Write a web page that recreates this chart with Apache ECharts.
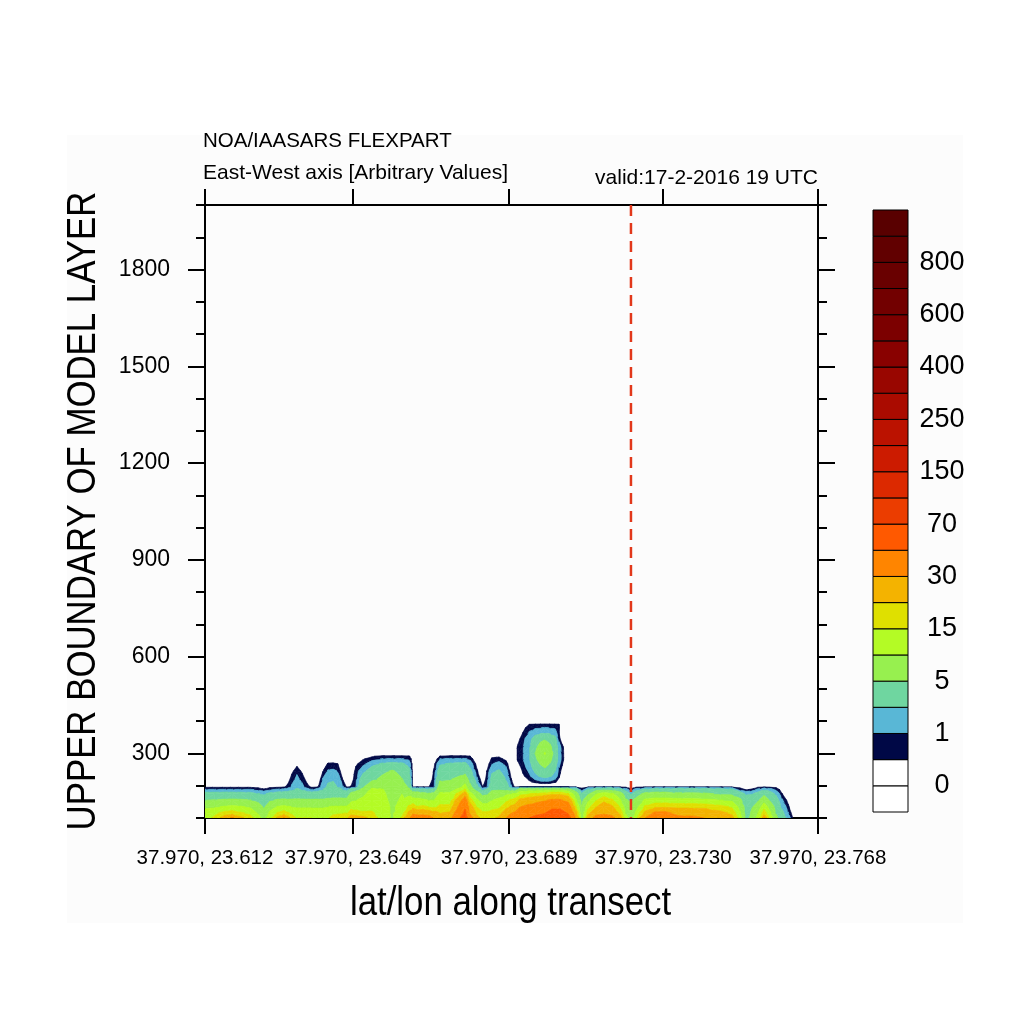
<!DOCTYPE html>
<html><head><meta charset="utf-8">
<script src="https://cdn.jsdelivr.net/npm/echarts@6/dist/echarts.min.js"></script>
<style>html,body{margin:0;padding:0;background:#fff}#c{width:1024px;height:1024px}</style>
</head><body><div id="c"></div>
<script>
// ---------- axis ticks / labels ----------
const xTickLons = [23.612, 23.6497, 23.6894, 23.7286, 23.768];
const xTickLabels = ['37.970, 23.612', '37.970, 23.649', '37.970, 23.689', '37.970, 23.730', '37.970, 23.768'];
const yMajorTicks = [300, 600, 900, 1200, 1500, 1800];
const yMinorTicks = [100, 200, 400, 500, 700, 800, 1000, 1100, 1300, 1400, 1600, 1700, 1900, 2000];
// ---------- contour levels & colours (colour k = interval below levels[k]) ----------
const levels = [0, 0.5, 1, 2, 5, 10, 15, 20, 30, 50, 70, 100, 150, 200, 250, 300, 400, 500, 600, 700, 800, 900];
const levelColors = ['#ffffff','#ffffff','#000846','#59b7d6','#6fd6a0','#97f04f','#b4fb25','#dfe000','#f4b300','#ff8500','#ff5900','#eb3d00','#dc2900','#cc1b00','#bb1200','#aa0b00','#990600','#890100','#7c0000','#720000','#690000','#610000','#590000'];
const colorbarLabelLevels = [0, 2, 4, 6, 8, 10, 12, 14, 16, 18, 20];
const markerLon = 23.7204;
// ---------- main plume field: one vertical profile per longitude ----------
const plumeHeight = [100, 115, 135, 155, 175, 188, 197, 220, 245, 268, 283, 291, 297];
const plumeLon = [23.6120,23.6145,23.6171,23.6189,23.6209,23.6235,23.6255,23.6270,23.6285,23.6306,23.6321,
 23.6331,23.6341,23.6354,23.6367,23.6380,23.6392,23.6408,23.6420,23.6433,23.6446,23.6458,23.6471,23.6481,
 23.6492,23.6504,23.6522,23.6545,23.6570,23.6596,23.6621,23.6639,23.6649,23.6660,23.6675,
 23.6690,23.6703,23.6718,23.6743,23.6769,23.6782,23.6794,23.6812,23.6827,
 23.6838,23.6850,23.6868,23.6886,23.6899,23.6909,
 23.6922,23.6942,23.6962,23.6983,23.7003,23.7023,23.7044,23.7064,23.7079,23.7095,23.7115,23.7135,23.7156,
 23.7176,23.7191,23.7204,23.7217,23.7240,23.7265,23.7291,23.7324,23.7359,23.7395,23.7431,23.7461,23.7481,
 23.7497,23.7512,23.7527,23.7543,23.7558,23.7573,23.7588,23.7604,23.7616,23.7629,23.7680];
const plumeConc = [
 [13,12,9,5,2.6,1.1,0.35,0,0,0,0,0,0],
 [16,14,9.5,5.2,2.6,1.1,0.35,0,0,0,0,0,0],
 [24,17,10.5,5.5,2.7,1.1,0.35,0,0,0,0,0,0],
 [32,18,11,5.6,2.7,1.1,0.35,0,0,0,0,0,0],
 [22,16,10.5,5.5,2.6,1.1,0.35,0,0,0,0,0,0],
 [17,14,9.5,5.2,2.5,1.1,0.35,0,0,0,0,0,0],
 [12,10,7,4,2.1,0.9,0.3,0,0,0,0,0,0],
 [8,6.5,4.6,3.3,1.8,0.6,0.2,0,0,0,0,0,0],
 [14,11,8,4.6,2.4,1.0,0.3,0,0,0,0,0,0],
 [22,16,10.5,5.5,2.7,1.2,0.35,0,0,0,0,0,0],
 [31,18,11,5.6,2.8,1.3,0.4,0,0,0,0,0,0],
 [22,16,10.5,5.5,2.8,1.5,0.7,0.2,0,0,0,0,0],
 [18,14,10,5.5,3,1.8,1.1,0.8,0.35,0,0,0,0],
 [15,12.5,9.5,5.5,3.2,2.2,1.8,1.15,0.9,0.3,0,0,0],
 [15,12.5,9.5,5.5,3,2,1.2,0.85,0.4,0,0,0,0],
 [15,12.5,9.5,5.5,2.8,1.4,0.7,0.25,0,0,0,0,0],
 [15,12.5,9.5,5.5,2.7,1.1,0.35,0,0,0,0,0,0],
 [14,12,9.5,5.5,2.8,1.5,0.45,0,0,0,0,0,0],
 [14,12,9.5,5.5,3,2,1.6,1.1,0.48,0,0,0,0],
 [15,13,10,5.8,3.2,2.4,2.2,1.8,1.1,0.6,0,0,0],
 [17,14,10.5,6,3.3,2.4,2.3,1.9,1.15,0.62,0,0,0],
 [18,14.5,10.5,6,3.3,2.3,2,1.6,1.0,0.5,0,0,0],
 [19,15,10.5,6,3.2,2,1.1,0.45,0,0,0,0,0],
 [20,15,10.5,6,3.2,1.6,0.4,0,0,0,0,0,0],
 [24,18,13,9,6,3,0.55,0.2,0,0,0,0,0],
 [23,17,13,10,7,4,1.0,0.85,0.7,0.4,0,0,0],
 [22,16,12.5,11,9,6,4.5,3,1.6,0.8,0.45,0,0],
 [18,16,13,12,12,11,9,4,3,1.5,0.75,0.45,0],
 [13,12.5,12,11.5,11,10.5,8.5,6,4,2.2,1.05,0.7,0],
 [9.5,9.5,9.5,9,8.5,8,7.5,7,5.5,2.4,1.05,0.7,0],
 [16,13,11,10.5,10,9,7,5.2,4,2.3,1.05,0.7,0],
 [30,22,16,12,9,6,4.5,3,2.5,1.6,0.9,0.6,0],
 [40,28,18,12,7,3,0.3,0.25,0.25,0.25,0.25,0.25,0],
 [40,25,15.5,11.5,7,3,0.4,0,0,0,0,0,0],
 [38,26,16,11,6,2.8,0.4,0,0,0,0,0,0],
 [36,24,15,10,5.5,2.5,0.45,0,0,0,0,0,0],
 [30,22,14,10,6,2.8,0.95,0.8,0.6,0.35,0,0,0],
 [24,20,16,13,11,8,7,4.5,3,1.8,1.05,0.55,0],
 [26,21,16,13,11,8,6.5,4.8,3.5,2.2,1.1,0.7,0],
 [50,42,34,27,18,12,9,6,3.7,2.3,1.1,0.7,0],
 [62,55,47,38,24,16,12,7,4,2.4,1.1,0.7,0],
 [36,30,24,18,12,8,6,4,2.6,1.5,0.9,0.55,0],
 [22,19,15,11,7,4,2.5,1.2,0.6,0.3,0,0,0],
 [18,16,12,8,4,1.8,0.45,0,0,0,0,0,0],
 [18,16,12,8,4.5,2.5,1.0,0.8,0.55,0.2,0,0,0],
 [19,17,13,10,7,4.5,3.5,2.5,1.8,1.0,0.6,0.4,0],
 [21,18,14,11,8,5,4,3,2.2,1.3,0.7,0.45,0],
 [30,24,18,14,9,4.5,3,2,1.4,0.8,0.35,0,0],
 [38,30,21,16,10,3.5,1.2,0.55,0.2,0,0,0,0],
 [42,32,22,17,10.5,3,0.3,0,0,0,0,0,0],
 [45,38,30,22,13.5,8,0.5,0,0,0,0,0,0],
 [50,42,33,24,15,8,0.5,0,0,0,0,0,0],
 [55,46,36,26,16,8,0.5,0,0,0,0,0,0],
 [62,50,40,29,17,8.5,0.5,0,0,0,0,0,0],
 [68,57,46,32,19,9,0.5,0,0,0,0,0,0],
 [70,58,46,32,19,9,0.5,0,0,0,0,0,0],
 [60,50,38,27,16,7,0.5,0,0,0,0,0,0],
 [30,23,16,11,7,3.2,0.4,0,0,0,0,0,0],
 [7,6.5,5.5,4,2.3,0.8,0.25,0,0,0,0,0,0],
 [24,18,13,9,5,2.3,0.4,0,0,0,0,0,0],
 [34,27,20,15,10,4,0.45,0,0,0,0,0,0],
 [36,29,23,19,12,5,0.45,0,0,0,0,0,0],
 [33,27,21,16,11,4.5,0.45,0,0,0,0,0,0],
 [24,19,15,11,7,3,0.4,0,0,0,0,0,0],
 [12,10,7.5,5.5,3.5,1.5,0.35,0,0,0,0,0,0],
 [7.5,6.5,5.5,4.5,2,0.7,0.25,0,0,0,0,0,0],
 [14,11,8,6,3.5,1.5,0.35,0,0,0,0,0,0],
 [30,22,16,11,6,2.5,0.4,0,0,0,0,0,0],
 [40,33,19,12,6.5,3,0.4,0,0,0,0,0,0],
 [42,34,19.5,12,6.5,3,0.4,0,0,0,0,0,0],
 [34,26,18.5,11.5,5.7,3.2,0.4,0,0,0,0,0,0],
 [33,26,18.5,11.5,5.7,3.2,0.4,0,0,0,0,0,0],
 [30,25,18,11,5.5,3,0.4,0,0,0,0,0,0],
 [26,22,16.5,10.2,4.6,2.8,0.4,0,0,0,0,0,0],
 [22,19,14.5,9.5,4.3,2.5,0.4,0,0,0,0,0,0],
 [13,11,8.5,6,3.2,0.9,0.25,0,0,0,0,0,0],
 [4,3.8,3.5,3,1.8,0.45,0.15,0,0,0,0,0,0],
 [6,5.5,4.8,3.6,2,0.6,0.2,0,0,0,0,0,0],
 [12,10,7,4.5,2.5,1.3,0.35,0,0,0,0,0,0],
 [24,18,13,8,4,2,0.4,0,0,0,0,0,0],
 [14,11,8,5,2.8,1.5,0.35,0,0,0,0,0,0],
 [6,5,3.8,2.8,1.8,1.0,0.3,0,0,0,0,0,0],
 [3,2.5,1.8,1.2,0.55,0.2,0,0,0,0,0,0,0],
 [1.5,1.1,0.65,0.3,0,0,0,0,0,0,0,0,0],
 [0.5,0.2,0,0,0,0,0,0,0,0,0,0,0],
 [0,0,0,0,0,0,0,0,0,0,0,0,0],
 [0,0,0,0,0,0,0,0,0,0,0,0,0]
];
// ---------- detached cloud: one row per height ----------
const blobLon = [23.6906,23.6917,23.6929,23.6945,23.6960,23.6973,23.6985,23.6998,23.7011,23.7021,23.7029,23.7039];
const blobHeight = [200, 212, 230, 255, 280, 300, 320, 345, 365, 380, 390, 398];
const blobConc = [
 [0,0,0,0,0,0,0,0,0,0,0,0],
 [0,0,0,0.4,0.65,0.85,0.9,0.85,0.6,0.3,0,0],
 [0,0,0.4,0.85,1.6,2.2,2.5,2.2,1.6,0.6,0.1,0],
 [0,0.2,0.7,1.3,2.7,3.8,5,3.8,2.3,1.0,0.4,0],
 [0.2,0.6,0.95,1.8,4,6.5,8,5.8,3.2,1.5,0.8,0],
 [0.2,0.6,0.95,1.8,5,8,10.5,7,3.7,1.5,0.8,0],
 [0.2,0.6,0.95,1.8,4,6.5,8,5.8,3.2,1.5,0.75,0],
 [0,0.35,0.8,1.5,2.7,3.9,4.8,3.8,2.5,0.8,0,0],
 [0,0,0.5,1.05,1.5,1.7,1.8,1.7,1.4,0.5,0,0],
 [0,0,0.3,0.8,0.95,1.0,1.05,1.0,0.95,0.55,0,0],
 [0,0,0,0.5,0.55,0.58,0.6,0.58,0.55,0.52,0,0],
 [0,0,0,0,0,0,0,0,0,0,0,0]
];

const FONT = '"Liberation Sans", Arial, Helvetica, sans-serif';
const grids = [
  {lons: plumeLon, hs: plumeHeight, v: (i, j) => plumeConc[i][j]},
  {lons: blobLon, hs: blobHeight, v: (i, j) => blobConc[j][i]}
];
const cells = [];
grids.forEach((g, gi) => {
  for (let i = 0; i < g.lons.length - 1; i++)
    for (let j = 0; j < g.hs.length - 1; j++) cells.push([g.lons[i], g.hs[j], i, j, gi]);
});

function clip(poly, level, above) {
  const out = [];
  for (let k = 0; k < poly.length; k++) {
    const a = poly[k], b = poly[(k + 1) % poly.length];
    const ia = above ? a[2] >= level : a[2] < level;
    const ib = above ? b[2] >= level : b[2] < level;
    if (ia) out.push(a);
    if (ia !== ib) {
      const t = (level - a[2]) / (b[2] - a[2]);
      out.push([a[0] + t * (b[0] - a[0]), a[1] + t * (b[1] - a[1]), level]);
    }
  }
  return out;
}

function renderCell(params, api) {
  const g = grids[api.value(4)];
  const i = api.value(2), j = api.value(3);
  const c = [[i, j], [i + 1, j], [i + 1, j + 1], [i, j + 1]].map(([a, b]) => {
    const p = api.coord([g.lons[a], g.hs[b]]);
    return [p[0], p[1], g.v(a, b)];
  });
  const [p00, p10, p11, p01] = c;
  const tris = Math.abs(p00[2] - p11[2]) <= Math.abs(p10[2] - p01[2])
    ? [[p00, p10, p11], [p00, p11, p01]] : [[p00, p10, p01], [p10, p11, p01]];
  const children = [];
  for (const t of tris) {
    const vmax = Math.max(t[0][2], t[1][2], t[2][2]);
    const vmin = Math.min(t[0][2], t[1][2], t[2][2]);
    if (vmax < levels[1]) continue;
    for (let b = 2; b < levelColors.length; b++) {
      const lo = levels[b - 1], hi = b < levels.length ? levels[b] : Infinity;
      if (vmax < lo || vmin >= hi) continue;
      let poly = clip(t, lo, true);
      if (poly.length < 3) continue;
      if (hi !== Infinity) poly = clip(poly, hi, false);
      if (poly.length < 3) continue;
      children.push({type: 'polygon', shape: {points: poly.map(p => [p[0], p[1]])},
        style: {fill: levelColors[b], stroke: levelColors[b], lineWidth: 0.6}});
    }
  }
  return {type: 'group', children};
}

const axisLine = {show: true, lineStyle: {color: '#000', width: 2}};
const xLabel = v => { let k = 0, d = Infinity; xTickLons.forEach((t, n) => { if (Math.abs(t - v) < d) { d = Math.abs(t - v); k = n; } }); return xTickLabels[k]; };

const chart = echarts.init(document.getElementById('c'), null, {renderer: 'canvas', width: 1024, height: 1024});
chart.setOption({
  animation: false,
  backgroundColor: '#ffffff',
  grid: [
    {left: 205, top: 205, width: 613, height: 613, outerBoundsMode: 'none'},
    {left: 873, top: 210, width: 35, height: 602, outerBoundsMode: 'none'}
  ],
  xAxis: [
    {gridIndex: 0, type: 'value', min: 23.612, max: 23.768, position: 'bottom', axisLine,
     axisTick: {show: true, customValues: xTickLons, length: 16, lineStyle: {color: '#000', width: 2}},
     axisLabel: {show: true, customValues: xTickLons, formatter: xLabel, fontSize: 20.5, fontFamily: FONT, color: '#000', margin: 30, showMinLabel: true, showMaxLabel: true},
     splitLine: {show: false}},
    {gridIndex: 0, type: 'value', min: 23.612, max: 23.768, position: 'top', axisLine,
     axisTick: {show: true, customValues: xTickLons, length: 16, lineStyle: {color: '#000', width: 2}},
     axisLabel: {show: false}, splitLine: {show: false}},
    {gridIndex: 1, type: 'value', min: 0, max: 1, show: false}
  ],
  yAxis: [
    {gridIndex: 0, type: 'value', min: 100, max: 2000, position: 'left', axisLine,
     axisTick: {show: true, customValues: yMajorTicks, length: 17, lineStyle: {color: '#000', width: 2}},
     axisLabel: {show: true, customValues: yMajorTicks, formatter: v => String(v), fontSize: 23, fontFamily: FONT, color: '#000', margin: 35},
     splitLine: {show: false}},
    {gridIndex: 0, type: 'value', min: 100, max: 2000, position: 'right', axisLine,
     axisTick: {show: true, customValues: yMajorTicks, length: 17, lineStyle: {color: '#000', width: 2}},
     axisLabel: {show: false}, splitLine: {show: false}},
    {gridIndex: 0, type: 'value', min: 100, max: 2000, position: 'left', axisLine: {show: false},
     axisTick: {show: true, customValues: yMinorTicks, length: 9, lineStyle: {color: '#000', width: 2}},
     axisLabel: {show: false}, splitLine: {show: false}},
    {gridIndex: 0, type: 'value', min: 100, max: 2000, position: 'right', axisLine: {show: false},
     axisTick: {show: true, customValues: yMinorTicks, length: 9, lineStyle: {color: '#000', width: 2}},
     axisLabel: {show: false}, splitLine: {show: false}},
    {gridIndex: 1, type: 'value', min: 0, max: levelColors.length, position: 'right', axisLine: {show: false},
     axisTick: {show: false},
     axisLabel: {show: true, customValues: colorbarLabelLevels.map(k => k + 1), formatter: v => String(levels[Math.round(v) - 1]),
       fontSize: 27, fontFamily: FONT, color: '#000', align: 'center', margin: 34},
     splitLine: {show: false}}
  ],
  graphic: [
    {type: 'rect', z: -100, silent: true, shape: {x: 67, y: 135, width: 896, height: 788}, style: {fill: '#fcfcfc'}},
    {type: 'text', x: 203, y: 141.5, style: {text: 'NOA/IAASARS FLEXPART', font: '20.5px ' + FONT, fill: '#000', align: 'left', verticalAlign: 'middle'}},
    {type: 'text', x: 203, y: 173, style: {text: 'East-West axis [Arbitrary Values]', font: '21px ' + FONT, fill: '#000', align: 'left', verticalAlign: 'middle'}},
    {type: 'text', x: 818, y: 178.5, style: {text: 'valid:17-2-2016 19 UTC', font: '21px ' + FONT, fill: '#000', align: 'right', verticalAlign: 'middle'}},
    {type: 'text', x: 510.5, y: 904, scaleX: 0.87, style: {text: 'lat/lon along transect', font: '40px ' + FONT, fill: '#000', align: 'center', verticalAlign: 'middle'}},
    {type: 'text', x: 83.6, y: 511, rotation: Math.PI / 2, scaleX: 0.87, style: {text: 'UPPER BOUNDARY OF MODEL LAYER', font: '40px ' + FONT, fill: '#000', align: 'center', verticalAlign: 'middle'}}
  ],
  series: [
    {type: 'custom', xAxisIndex: 0, yAxisIndex: 0, clip: true, silent: true, data: cells,
     encode: {x: 0, y: 1}, renderItem: renderCell, z: 2},
    {type: 'line', xAxisIndex: 0, yAxisIndex: 0, silent: true, symbol: 'none', z: 5,
     data: [[markerLon, 2000], [markerLon, 100]],
     lineStyle: {color: '#e2381a', width: 2.5, type: [11, 7]}},
    {type: 'custom', xAxisIndex: 2, yAxisIndex: 4, silent: true, z: 2,
     data: levelColors.map((col, k) => [0, k, k]), encode: {x: 0, y: 1},
     renderItem: (params, api) => {
       const k = api.value(2);
       const a = api.coord([0, k]), b = api.coord([1, k + 1]);
       return {type: 'rect', shape: {x: a[0], y: b[1], width: b[0] - a[0], height: a[1] - b[1]},
         style: {fill: levelColors[k], stroke: '#000', lineWidth: 1}};
     }}
  ]
});
</script>
</body></html>
